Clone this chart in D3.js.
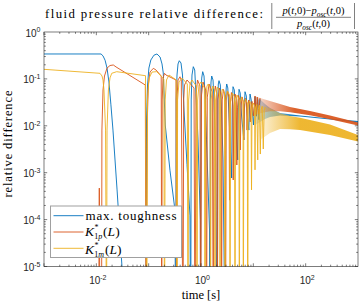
<!DOCTYPE html>
<html><head><meta charset="utf-8">
<script src="https://cdn.jsdelivr.net/npm/d3@7"></script>
<style>body{margin:0;background:#fff}svg{display:block}</style>
</head><body>
<script>
// ---------------- data (time [s], relative difference) ----------------
const seriesNames = ["max. toughness", "K*_1p(L)", "K*_1m(L)"];
const seriesColors = ["#0072BD", "#D95319", "#EDB120"];

const blueLine = [
[0.001,0.34],[0.0123,0.34],[0.0134,0.31],[0.0147,0.25],[0.016,0.17],[0.0174,0.086],[0.019,0.028],[0.0208,0.0081],[0.0249,4.3e-4],[0.0309,1e-5],[0.037,4.6e-7],
[0.0889,1e-7],[0.091,0.0133],[0.0951,0.074],[0.101,0.17],[0.11,0.253],[0.126,0.32],[0.144,0.34],[0.165,0.293],[0.18,0.208],[0.19,0.134],[0.199,0.0355],[0.2075,0.0104],[0.256,0.0011],[0.318,1.6e-4],[0.329,1e-7],
[0.336,0.0355],[0.348,0.121],[0.364,0.208],[0.385,0.244],[0.415,0.218],[0.443,0.121],[0.4735,0.0217],[0.54,0.0015],[0.616,1.2e-4],[0.636,1e-7],
[0.65,0.0355],[0.673,0.121],[0.713,0.182],[0.759,0.155],[0.803,0.0454],[0.877,0.005],[0.97,1e-4],[0.98,1e-7],
[1.0,0.0355],[1.032,0.104],[1.078,0.1425],[1.142,0.1153],[1.193,0.0454],[1.274,0.005],[1.455,6e-5],[1.473,1e-7],
[1.507,0.0355],[1.554,0.086],[1.602,0.1153],[1.697,0.0948],[1.773,0.0355],[1.894,0.003],[2.05,1e-7],
[2.096,0.0355],[2.142,0.0779],[2.209,0.0917],[2.339,0.0741],[2.466,0.0217],[2.634,0.00187],[2.902,1e-7],
[2.965,0.0355],[3.033,0.064],[3.1,0.0779],[3.253,0.064],[3.43,0.017],[3.846,7.7e-4],
[3.949,0.0217],[4.091,0.0682],[4.33,0.058],[4.565,0.017],[5.03,0.00187],
[5.166,0.0217],[5.326,0.06],[5.616,0.05],[5.946,0.017],[6.578,0.005],
[6.724,0.0217],[6.935,0.0533],[7.344,0.0432],[7.674,0.017],[8.2,0.0081],
[8.42,0.0217],[8.645,0.0476],[9.11,0.0355],[10.08,0.0104],[10.44,0.0217],[10.77,0.0417],
[11.4,0.016],[12.1,0.036],[12.8,0.0135],[13.42,0.0367]
];
const blueBandTime  = [10.77, 13.42, 16.72, 20.84, 32.4, 78, 291.7, 1000];
const blueBandUpper = [0.0417, 0.0367, 0.0292, 0.024, 0.0187, 0.0166, 0.0143, 0.0127];
const blueBandLower = [0.0104, 0.0121, 0.014, 0.0154, 0.0166, 0.0158, 0.0136, 0.0116];

const orangeLine = [
[0.011,1e-7],[0.0114,4.7e-4],[0.01175,1e-7],[0.01256,1e-7],[0.01278,0.0081],[0.01341,0.058],[0.01432,0.1153],[0.016,0.17],[0.01825,0.193],[0.0211,0.198],[0.0238,0.18],[0.0863,0.0741],[0.0889,1e-7],
[0.0942,0.0133],[0.0985,0.0741],[0.106,0.14],[0.1227,0.168],[0.138,0.155],[0.1737,0.1153],[0.1775,1e-7],
[0.1815,0.0355],[0.188,0.103],[0.2008,0.1316],[0.2145,0.121],[0.333,0.0948],[0.342,1e-7],
[0.351,0.0454],[0.3637,0.0948],[0.397,0.111],[0.4205,0.0948],[0.453,1e-7],
[0.467,0.0355],[0.484,0.0741],[0.5403,0.0948],[0.7355,0.064],[0.768,1e-7],
[0.803,0.0454],[0.858,0.0948],[0.957,0.0706],[0.987,1e-7],
[1.023,0.0454],[1.093,0.0859],[1.23,0.058],[1.274,1e-7],
[1.32,0.0409],[1.423,0.0779],[1.645,0.0526],[1.719,1e-7],
[1.773,0.0393],[1.878,0.0706],[1.997,0.05],[2.05,1e-7],
[2.114,0.0372],[2.248,0.064],[2.413,0.0454],[2.466,1e-7],
[2.543,0.0355],[2.693,0.0595],[2.877,0.0432],[2.942,1e-7],
[3.033,0.0355],[3.212,0.0553],[3.43,0.0409],[3.507,2.6e-4],
[3.615,0.0278],[3.813,0.0513],[4.037,0.0393],[4.127,7e-4],
[4.256,0.0263],[4.467,0.0476],[4.73,0.0372],[4.835,0.00146],
[4.987,0.025],[5.212,0.0442],[5.518,0.0355],[5.641,0.00305],
[5.817,0.024],[6.077,0.0413],[6.407,0.0338],[6.551,0.00498],
[6.756,0.0228],[7.062,0.0383],[7.411,0.0322],[7.575,0.0081],
[7.811,0.0217],[8.163,0.0355],[8.566,0.0306],[8.757,0.0121],
[9.031,0.0217],[9.439,0.0331],[10.08,0.0162],[10.77,0.0432],
[11.3,0.0175],[11.9,0.041],[12.6,0.018],[13.42,0.0392]
];
const orangeBandTime  = [10.77, 13.42, 20.84, 32.4, 50.2, 121, 292, 1000];
const orangeBandUpper = [0.0432, 0.0392, 0.0338, 0.0292, 0.0252, 0.0207, 0.0166, 0.0118];
const orangeBandLower = [0.0162, 0.0185, 0.0205, 0.0205, 0.0195, 0.0168, 0.0138, 0.0101];

const yellowLine = [
[0.001,0.16],[0.01175,0.1316],[0.01284,0.1153],[0.01341,0.0948],[0.014,0.058],[0.015,0.0081],[0.01565,1e-7],
[0.016,0.0081],[0.017,0.058],[0.01825,0.105],[0.0197,0.1316],[0.0245,0.1425],[0.087,0.117],[0.0918,1e-7],
[0.0951,0.0355],[0.1015,0.103],[0.1158,0.14],[0.1425,0.1425],[0.1948,0.0995],[0.2009,1e-7],
[0.207,0.0355],[0.219,0.0948],[0.2447,0.121],[0.3375,0.0948],[0.348,1e-7],
[0.357,0.0355],[0.38,0.0859],[0.4337,0.104],[0.5474,0.0779],[0.565,1e-7],
[0.58,0.0355],[0.616,0.0779],[0.673,0.0948],[0.814,0.0706],[0.839,1e-7],
[0.862,0.0355],[0.916,0.0741],[1.0,0.0859],[1.162,0.064],[1.193,1e-7],
[1.225,0.0355],[1.303,0.0706],[1.374,0.0779],[1.486,0.064],[1.52,1e-7],
[1.561,0.0355],[1.675,0.0706],[1.813,0.058],[1.853,1e-7],
[1.902,0.0355],[2.05,0.067],[2.258,0.0553],[2.308,1e-7],
[2.371,0.0355],[2.555,0.0608],[2.814,0.05],[2.877,1e-7],
[2.954,0.0338],[3.184,0.0553],[3.507,0.0454],[3.585,1e-7],
[3.68,0.0322],[3.967,0.05],[4.37,0.0413],[4.467,1e-7],
[4.565,0.0306],[4.878,0.0454],[5.304,0.0372],[5.4,1e-7],
[5.518,0.0292],[5.893,0.0413],[6.353,0.0338],[6.437,1e-7],
[6.578,0.0278],[7.093,0.0372],[7.674,0.0306],[7.811,1e-7],
[7.98,0.0264],[8.49,0.0338],[9.031,0.0292],[9.233,4.3e-4],
[9.439,0.024],[9.99,0.0306],[10.58,0.0264],[10.77,0.00115],
[11.0,0.024],[11.66,0.0285],[12.13,0.00187],[12.45,0.0227],[13.0,0.0275],[13.6,0.0025],
[14.1,0.022],[14.8,0.026],[15.5,0.0032],[16.1,0.021],[16.9,0.025]
];
const yellowBandTime  = [13.42, 20.84, 32.4, 50.2, 78, 292, 1000];
const yellowBandUpper = [0.0278, 0.0235, 0.0185, 0.0162, 0.0148, 0.0106, 0.00637];
const yellowBandLower = [0.00498, 0.00703, 0.00855, 0.0084, 0.0081, 0.00637, 0.00463];

const xTickLabelValues = [1e-2, 1e0, 1e2];
const yTickLabelValues = [1e-5, 1e-4, 1e-3, 1e-2, 1e-1, 1e0];
const titleText = "fluid pressure relative difference:";
const xLabelText = "time [s]";
const yLabelText = "relative difference";

// ---------------- drawing ----------------
const W = 360, H = 304;
const L = 44, R = 358, T = 32, B = 266.5;
const SERIF = "'Liberation Serif','DejaVu Serif',serif";
const SANS = "'Liberation Sans',Arial,Helvetica,sans-serif";
const AX = "#262626";

const svg = d3.select("body").append("svg").attr("width", W).attr("height", H);
const x = d3.scaleLog().domain([1e-3, 1e3]).range([L, R]);
const y = d3.scaleLog().domain([1e-5, 1]).range([B, T]);

const defs = svg.append("defs");
defs.append("clipPath").attr("id", "clip")
  .append("rect").attr("x", L).attr("y", T).attr("width", R - L).attr("height", B - T);

const plot = svg.append("g").attr("clip-path", "url(#clip)");
const line = d3.line().x(d => x(d[0])).y(d => y(d[1]));
const area = d3.area().x(d => x(d[0])).y0(d => y(d[2])).y1(d => y(d[1]));

const series = [
  {line: blueLine, bt: blueBandTime, bu: blueBandUpper, bl: blueBandLower},
  {line: orangeLine, bt: orangeBandTime, bu: orangeBandUpper, bl: orangeBandLower},
  {line: yellowLine, bt: yellowBandTime, bu: yellowBandUpper, bl: yellowBandLower}
];
series.forEach((s, i) => {
  const c = seriesColors[i];
  const x0 = x(s.bt[0]);
  const gr = defs.append("linearGradient").attr("id", "g" + i).attr("gradientUnits", "userSpaceOnUse")
    .attr("x1", x0).attr("x2", x0 + 40).attr("y1", 0).attr("y2", 0);
  gr.append("stop").attr("offset", 0).attr("stop-color", c).attr("stop-opacity", 0.15);
  gr.append("stop").attr("offset", 1).attr("stop-color", c).attr("stop-opacity", 0.92);
  const band = s.bt.map((t, k) => [t, s.bu[k], s.bl[k]]);
  plot.append("path").attr("d", area(band)).attr("fill", "url(#g" + i + ")");
  plot.append("path").attr("d", line(s.line)).attr("fill", "none")
    .attr("stroke", c).attr("stroke-width", 0.9).attr("stroke-linejoin", "round");
});

// frame and ticks
const axes = svg.append("g").attr("stroke", AX).attr("stroke-width", 0.6).attr("fill", "none");
axes.append("rect").attr("x", L).attr("y", T).attr("width", R - L).attr("height", B - T);
const majLen = 3.2, minLen = 1.8;
function xTick(v, len) {
  const px = x(v);
  axes.append("line").attr("x1", px).attr("x2", px).attr("y1", B).attr("y2", B - len);
  axes.append("line").attr("x1", px).attr("x2", px).attr("y1", T).attr("y2", T + len);
}
function yTick(v, len) {
  const py = y(v);
  axes.append("line").attr("y1", py).attr("y2", py).attr("x1", L).attr("x2", L + len);
  axes.append("line").attr("y1", py).attr("y2", py).attr("x1", R).attr("x2", R - len);
}
for (let e = -3; e <= 2; e++) {
  xTick(Math.pow(10, e), majLen);
  for (let m = 2; m <= 9; m++) xTick(m * Math.pow(10, e), minLen);
}
for (let e = -5; e <= -1; e++) {
  yTick(Math.pow(10, e), majLen);
  for (let m = 2; m <= 9; m++) yTick(m * Math.pow(10, e), minLen);
}

// tick labels
function powLabel(g, px, py, exp, anchor) {
  const t = g.append("text").attr("x", px).attr("y", py).attr("font-family", SANS)
    .attr("font-size", 10).attr("fill", AX).attr("text-anchor", anchor);
  t.append("tspan").text("10");
  t.append("tspan").attr("dy", -4.5).attr("font-size", 7).text(exp < 0 ? "-" + (-exp) : String(exp));
}
const lab = svg.append("g");
xTickLabelValues.forEach(v => powLabel(lab, x(v) + 1.5, 284, Math.round(Math.log10(v)), "middle"));
yTickLabelValues.forEach(v => powLabel(lab, 40.5, y(v) + 4.5, Math.round(Math.log10(v)), "end"));

// axis labels
svg.append("text").attr("x", (L + R) / 2).attr("y", 299).attr("text-anchor", "middle")
  .attr("font-family", SERIF).attr("font-size", 12.5).attr("fill", "#000").text(xLabelText);
svg.append("text").attr("transform", "translate(12,144) rotate(-90)").attr("text-anchor", "middle")
  .attr("font-family", SERIF).attr("font-size", 12.5).attr("fill", "#000")
  .attr("textLength", 107).attr("lengthAdjust", "spacing").text(yLabelText);

// title
svg.append("text").attr("x", 45).attr("y", 17.5).attr("font-family", SERIF).attr("font-size", 12.8)
  .attr("fill", "#000").attr("textLength", 218).attr("lengthAdjust", "spacing").text(titleText);

function mathText(px, py, segs, size, anchor) {
  const t = svg.append("text").attr("x", px).attr("y", py).attr("font-family", SERIF)
    .attr("font-size", size).attr("fill", "#000").attr("text-anchor", anchor || "start");
  let shift = 0;
  segs.forEach(s => {
    const target = s.sub ? size * 0.3 : (s.sup ? -size * 0.4 : 0);
    const sp = t.append("tspan").attr("dy", target - shift).text(s.t);
    shift = target;
    if (s.sub || s.sup) sp.attr("font-size", size * 0.7);
    if (s.it) sp.attr("font-style", "italic");
  });
  return t;
}
const num = [
  {t: "p", it: true}, {t: "("}, {t: "t", it: true}, {t: ",0)−"}, {t: "p", it: true},
  {t: "osc", it: true, sub: true}, {t: "("}, {t: "t", it: true}, {t: ",0)"}
];
const den = [{t: "p", it: true}, {t: "osc", it: true, sub: true}, {t: "("}, {t: "t", it: true}, {t: ",0)"}];
mathText(313.5, 13.5, num, 10.5, "middle");
mathText(313.5, 26.5, den, 10.5, "middle");
const fr = svg.append("g").attr("stroke", "#000").attr("stroke-width", 0.5);
fr.append("line").attr("x1", 276).attr("x2", 351).attr("y1", 17.3).attr("y2", 17.3);
fr.append("line").attr("x1", 271.8).attr("x2", 271.8).attr("y1", 3).attr("y2", 29);
fr.append("line").attr("x1", 354.5).attr("x2", 354.5).attr("y1", 3).attr("y2", 29);

// legend
const lg = svg.append("g");
lg.append("rect").attr("x", 50.5).attr("y", 206).attr("width", 131).attr("height", 51.5)
  .attr("fill", "#fff").attr("stroke", "#a0a0a0").attr("stroke-width", 1);
const rowsY = [215.7, 232, 248.3];
rowsY.forEach((ry, i) => {
  lg.append("line").attr("x1", 53.5).attr("x2", 83.5).attr("y1", ry).attr("y2", ry)
    .attr("stroke", seriesColors[i]).attr("stroke-width", 0.9);
});
lg.append("text").attr("x", 85.5).attr("y", rowsY[0] + 4).attr("font-family", SERIF).attr("font-size", 13)
  .attr("fill", "#000").attr("textLength", 91).attr("lengthAdjust", "spacing").text(seriesNames[0]);
function kLabel(ry, sub, off) {
  const base = ry + off;
  const t = lg.append("text").attr("x", 85).attr("y", base).attr("font-family", SERIF)
    .attr("font-size", 13.5).attr("fill", "#000");
  t.append("tspan").attr("font-style", "italic").text("K");
  t.append("tspan").attr("font-size", 8).attr("dx", 0.5).attr("dy", -6).text("*");
  t.append("tspan").attr("font-size", 8).attr("dx", -4.2).attr("dy", 9).text("1");
  t.append("tspan").attr("font-size", 8).attr("font-style", "italic").text(sub);
  t.append("tspan").attr("dx", 0.8).attr("dy", -3).text("(");
  t.append("tspan").attr("font-style", "italic").text("L");
  t.append("tspan").text(")");
}
kLabel(rowsY[1], "p", 3.7);
kLabel(rowsY[2], "m", 5.5);
</script>
</body></html>
